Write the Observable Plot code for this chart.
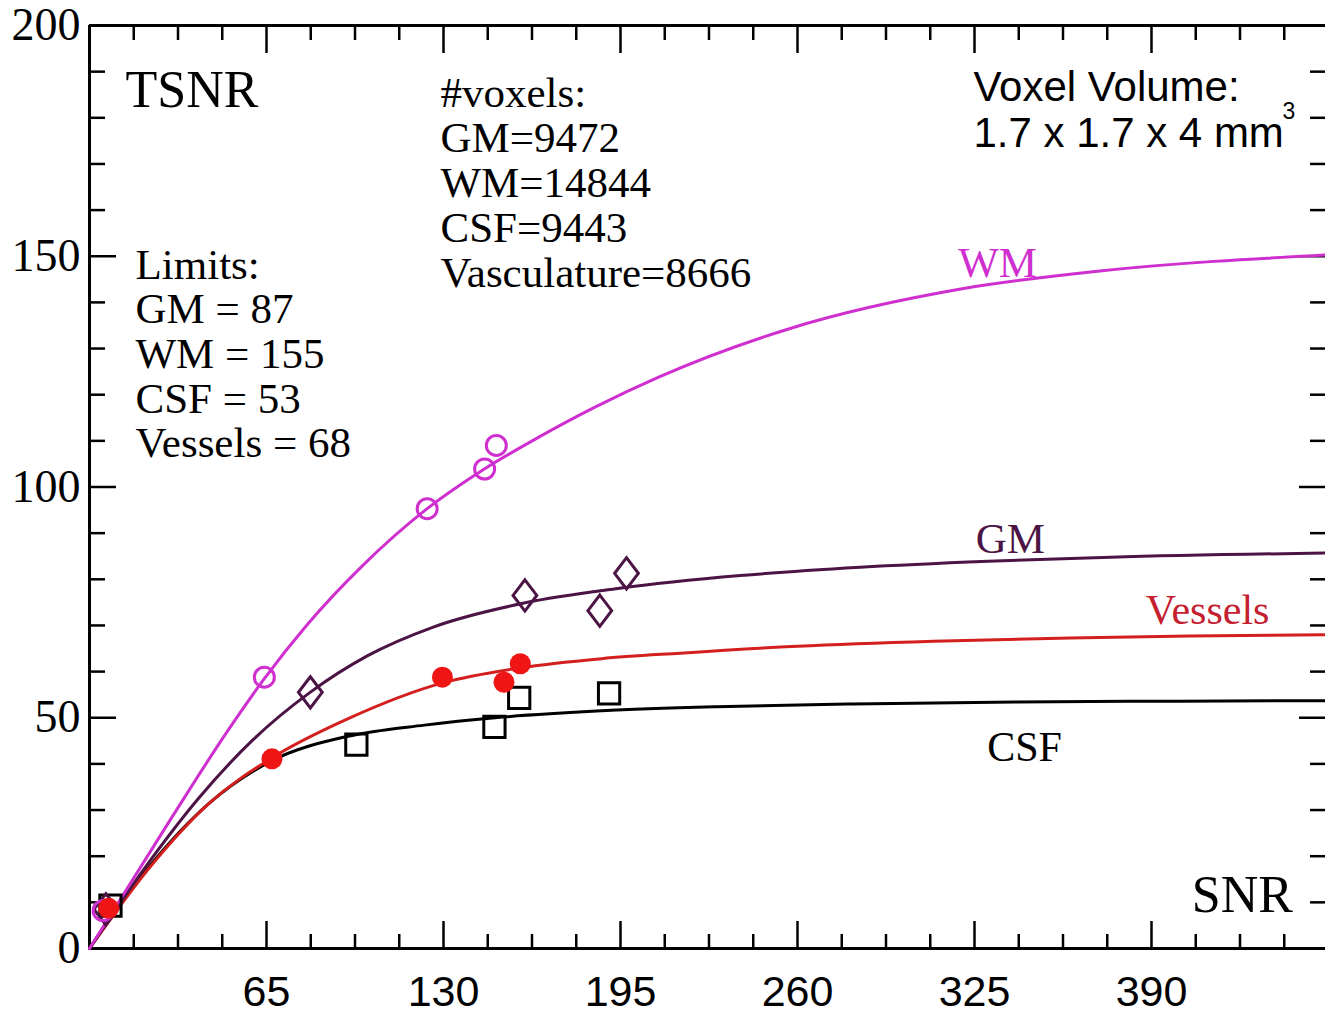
<!DOCTYPE html>
<html>
<head>
<meta charset="utf-8">
<script src="https://cdn.jsdelivr.net/npm/d3@7"></script>
<script src="https://cdn.jsdelivr.net/npm/@observablehq/plot@0.6"></script>
<style>
  html, body { margin: 0; padding: 0; background: #fff; overflow: hidden; }
</style>
</head>
<body>
<div id="chart"></div>
<script>
// ---- Fitted curves ----
const wmCurveX  = [0, 30, 50, 64, 80, 100, 124, 145, 165, 186, 209, 257, 321, 371, 455];
const wmCurveY  = [0, 28.2, 46.5, 58.3, 70.2, 82.8, 95.3, 103.9, 110.8, 117.4, 123.8, 134.3, 143, 146.8, 150.3];

const gmCurveX  = [0, 20, 40, 60, 81, 102, 126, 160, 194, 239, 283, 330, 375, 455];
const gmCurveY  = [0, 17.2, 32.5, 45.2, 55.5, 63.4, 69.6, 74.9, 78.0, 80.8, 82.6, 83.9, 84.8, 85.7];

const vesCurveX = [0, 22, 44, 67, 95, 130, 158, 188, 217, 260, 310, 360, 404, 455];
const vesCurveY = [0, 17.5, 31.5, 41.3, 49.8, 57.6, 60.8, 62.8, 64.0, 65.5, 66.6, 67.3, 67.7, 68.0];

const csfCurveX = [0, 22, 44, 67, 95, 123, 149, 188, 230, 280, 340, 400, 455];
const csfCurveY = [0, 17.8, 31.5, 40.7, 46.0, 48.4, 50.0, 51.5, 52.4, 53.0, 53.4, 53.6, 53.7];

// ---- Measured points ----
const wmPtsX  = [5, 64.2, 124.0, 145.1, 149.4];
const wmPtsY  = [8.2, 58.8, 95.3, 103.9, 109.0];
const gmPtsX  = [6, 81.1, 159.9, 187.4, 197.2];
const gmPtsY  = [8.5, 55.5, 76.5, 73.2, 81.3];
const vesPtsX = [7, 67.0, 129.6, 152.2, 158.2];
const vesPtsY = [8.7, 41.1, 58.8, 57.7, 61.7];
const csfPtsX = [7.7, 98.0, 148.7, 157.8, 190.8];
const csfPtsY = [9.3, 44.2, 48.0, 54.3, 55.3];

// ---- Ticks ----
const xTickLabels = [65, 130, 195, 260, 325, 390];
const xMinorTicks = [16.25, 32.5, 48.75, 81.25, 97.5, 113.75, 146.25, 162.5, 178.75, 211.25, 227.5, 243.75,
                     276.25, 292.5, 308.75, 341.25, 357.5, 373.75, 406.25, 422.5, 438.75];
const yTickLabels = [0, 50, 100, 150, 200];
const yMajorTicks = [50, 100, 150];
const yMinorTicks = [10, 20, 30, 40, 60, 70, 80, 90, 110, 120, 130, 140, 160, 170, 180, 190];

// ---- Texts ----
const limitsText = "Limits:\nGM = 87\nWM = 155\nCSF = 53\nVessels = 68";
const voxelsText = "#voxels:\nGM=9472\nWM=14844\nCSF=9443\nVasculature=8666";
const volumeText = "Voxel Volume:\n1.7 x 1.7 x 4 mm";

const pairs = (xs, ys) => xs.map((x, i) => ({x, y: ys[i]}));

const WM = "#cf2fcf", GM = "#4b1445", VES = "#d41f1f", VESDOT = "#f01515", CSF = "#000000";
const SERIF = "'Liberation Serif', 'Times New Roman', serif";
const SANS = "'Liberation Sans', Arial, sans-serif";

const diamond = {
  draw(context, size) {
    const r = Math.sqrt(size / Math.PI);
    const w = r * 0.95, h = r * 1.25;
    context.moveTo(0, -h);
    context.lineTo(w, 0);
    context.lineTo(0, h);
    context.lineTo(-w, 0);
    context.closePath();
  }
};

const chart = Plot.plot({
  width: 1325,
  height: 1017,
  marginLeft: 89, marginRight: 0, marginTop: 25, marginBottom: 69,
  x: {domain: [0, 455], range: [89, 1328]},
  y: {domain: [0, 200], range: [948, 25]},
  style: {overflow: "hidden", background: "#fff"},
  marks: [
    // ticks (inward)
    Plot.axisX(xTickLabels, {anchor: "bottom", tickSize: -27, strokeWidth: 2.5, tickFormat: () => "", label: null}),
    Plot.axisX(xMinorTicks, {anchor: "bottom", tickSize: -14, strokeWidth: 2.5, tickFormat: () => "", label: null}),
    Plot.axisX(xTickLabels, {anchor: "top", tickSize: -27, strokeWidth: 2.5, tickFormat: () => "", label: null}),
    Plot.axisX(xMinorTicks, {anchor: "top", tickSize: -14, strokeWidth: 2.5, tickFormat: () => "", label: null}),
    Plot.axisY(yMajorTicks, {anchor: "left", tickSize: -27, strokeWidth: 2.5, tickFormat: () => "", label: null}),
    Plot.axisY(yMinorTicks, {anchor: "left", tickSize: -16, strokeWidth: 2.5, tickFormat: () => "", label: null}),
    Plot.axisY(yMajorTicks, {anchor: "right", tickSize: -27, strokeWidth: 2.5, tickFormat: () => "", label: null}),
    Plot.axisY(yMinorTicks, {anchor: "right", tickSize: -16, strokeWidth: 2.5, tickFormat: () => "", label: null}),
    // tick labels
    Plot.axisX(xTickLabels, {anchor: "bottom", tickSize: 0, tickPadding: 27, fontSize: 43, fontFamily: SANS, label: null}),
    Plot.axisY(yTickLabels, {anchor: "left", tickSize: 0, tickPadding: 9, fontSize: 46, fontFamily: SERIF, label: null}),
    // frame
    Plot.ruleY([0, 200], {stroke: "#000", strokeWidth: 3}),
    Plot.ruleX([0, 455], {stroke: "#000", strokeWidth: 3}),
    // curves
    Plot.line(pairs(csfCurveX, csfCurveY), {x: "x", y: "y", stroke: CSF, strokeWidth: 3, curve: "monotone-x"}),
    Plot.line(pairs(vesCurveX, vesCurveY), {x: "x", y: "y", stroke: VES, strokeWidth: 3, curve: "monotone-x"}),
    Plot.line(pairs(gmCurveX, gmCurveY), {x: "x", y: "y", stroke: GM, strokeWidth: 3, curve: "monotone-x"}),
    Plot.line(pairs(wmCurveX, wmCurveY), {x: "x", y: "y", stroke: WM, strokeWidth: 3, curve: "monotone-x"}),
    // points
    Plot.dot(pairs(csfPtsX, csfPtsY), {x: "x", y: "y", symbol: "square", r: 12, fill: "none", stroke: CSF, strokeWidth: 3}),
    Plot.dot(pairs(gmPtsX, gmPtsY), {x: "x", y: "y", symbol: diamond, r: 12.5, fill: "none", stroke: GM, strokeWidth: 3}),
    Plot.dot(pairs(wmPtsX, wmPtsY), {x: "x", y: "y", symbol: "circle", r: 10, fill: "none", stroke: WM, strokeWidth: 3}),
    Plot.dot(pairs(vesPtsX, vesPtsY), {x: "x", y: "y", symbol: "circle", r: 10.5, fill: VESDOT, stroke: "none"}),
    // annotations
    Plot.text(["TSNR"], {x: 13.2, y: 182.4, textAnchor: "start", lineAnchor: "bottom", fontSize: 52, fontFamily: SERIF, fill: "#000"}),
    Plot.text([limitsText], {x: 16.9, y: 106.4, textAnchor: "start", lineAnchor: "bottom", lineHeight: 1.04, fontSize: 43, fontFamily: SERIF, fill: "#000"}),
    Plot.text([voxelsText], {x: 128.9, y: 143.4, textAnchor: "start", lineAnchor: "bottom", lineHeight: 1.047, fontSize: 43, fontFamily: SERIF, fill: "#000"}),
    Plot.text([volumeText], {x: 324.6, y: 173.6, textAnchor: "start", lineAnchor: "bottom", lineHeight: 1.095, fontSize: 42, fontFamily: SANS, fill: "#000"}),
    Plot.text(["3"], {x: 438.1, y: 179.8, textAnchor: "start", lineAnchor: "bottom", fontSize: 23, fontFamily: SANS, fill: "#000"}),
    Plot.text(["WM"], {x: 333.5, y: 145.6, lineAnchor: "bottom", fontSize: 43, fontFamily: SERIF, fill: WM}),
    Plot.text(["GM"], {x: 338.2, y: 85.8, lineAnchor: "bottom", fontSize: 43, fontFamily: SERIF, fill: GM}),
    Plot.text(["Vessels"], {x: 410.6, y: 70.4, lineAnchor: "bottom", fontSize: 42, fontFamily: SERIF, fill: "#c42030"}),
    Plot.text(["CSF"], {x: 343.4, y: 40.7, lineAnchor: "bottom", fontSize: 42, fontFamily: SERIF, fill: "#000"}),
    Plot.text(["SNR"], {x: 423.4, y: 8.0, lineAnchor: "bottom", fontSize: 52, fontFamily: SERIF, fill: "#000"})
  ]
});

document.getElementById("chart").append(chart);
</script>
</body>
</html>
